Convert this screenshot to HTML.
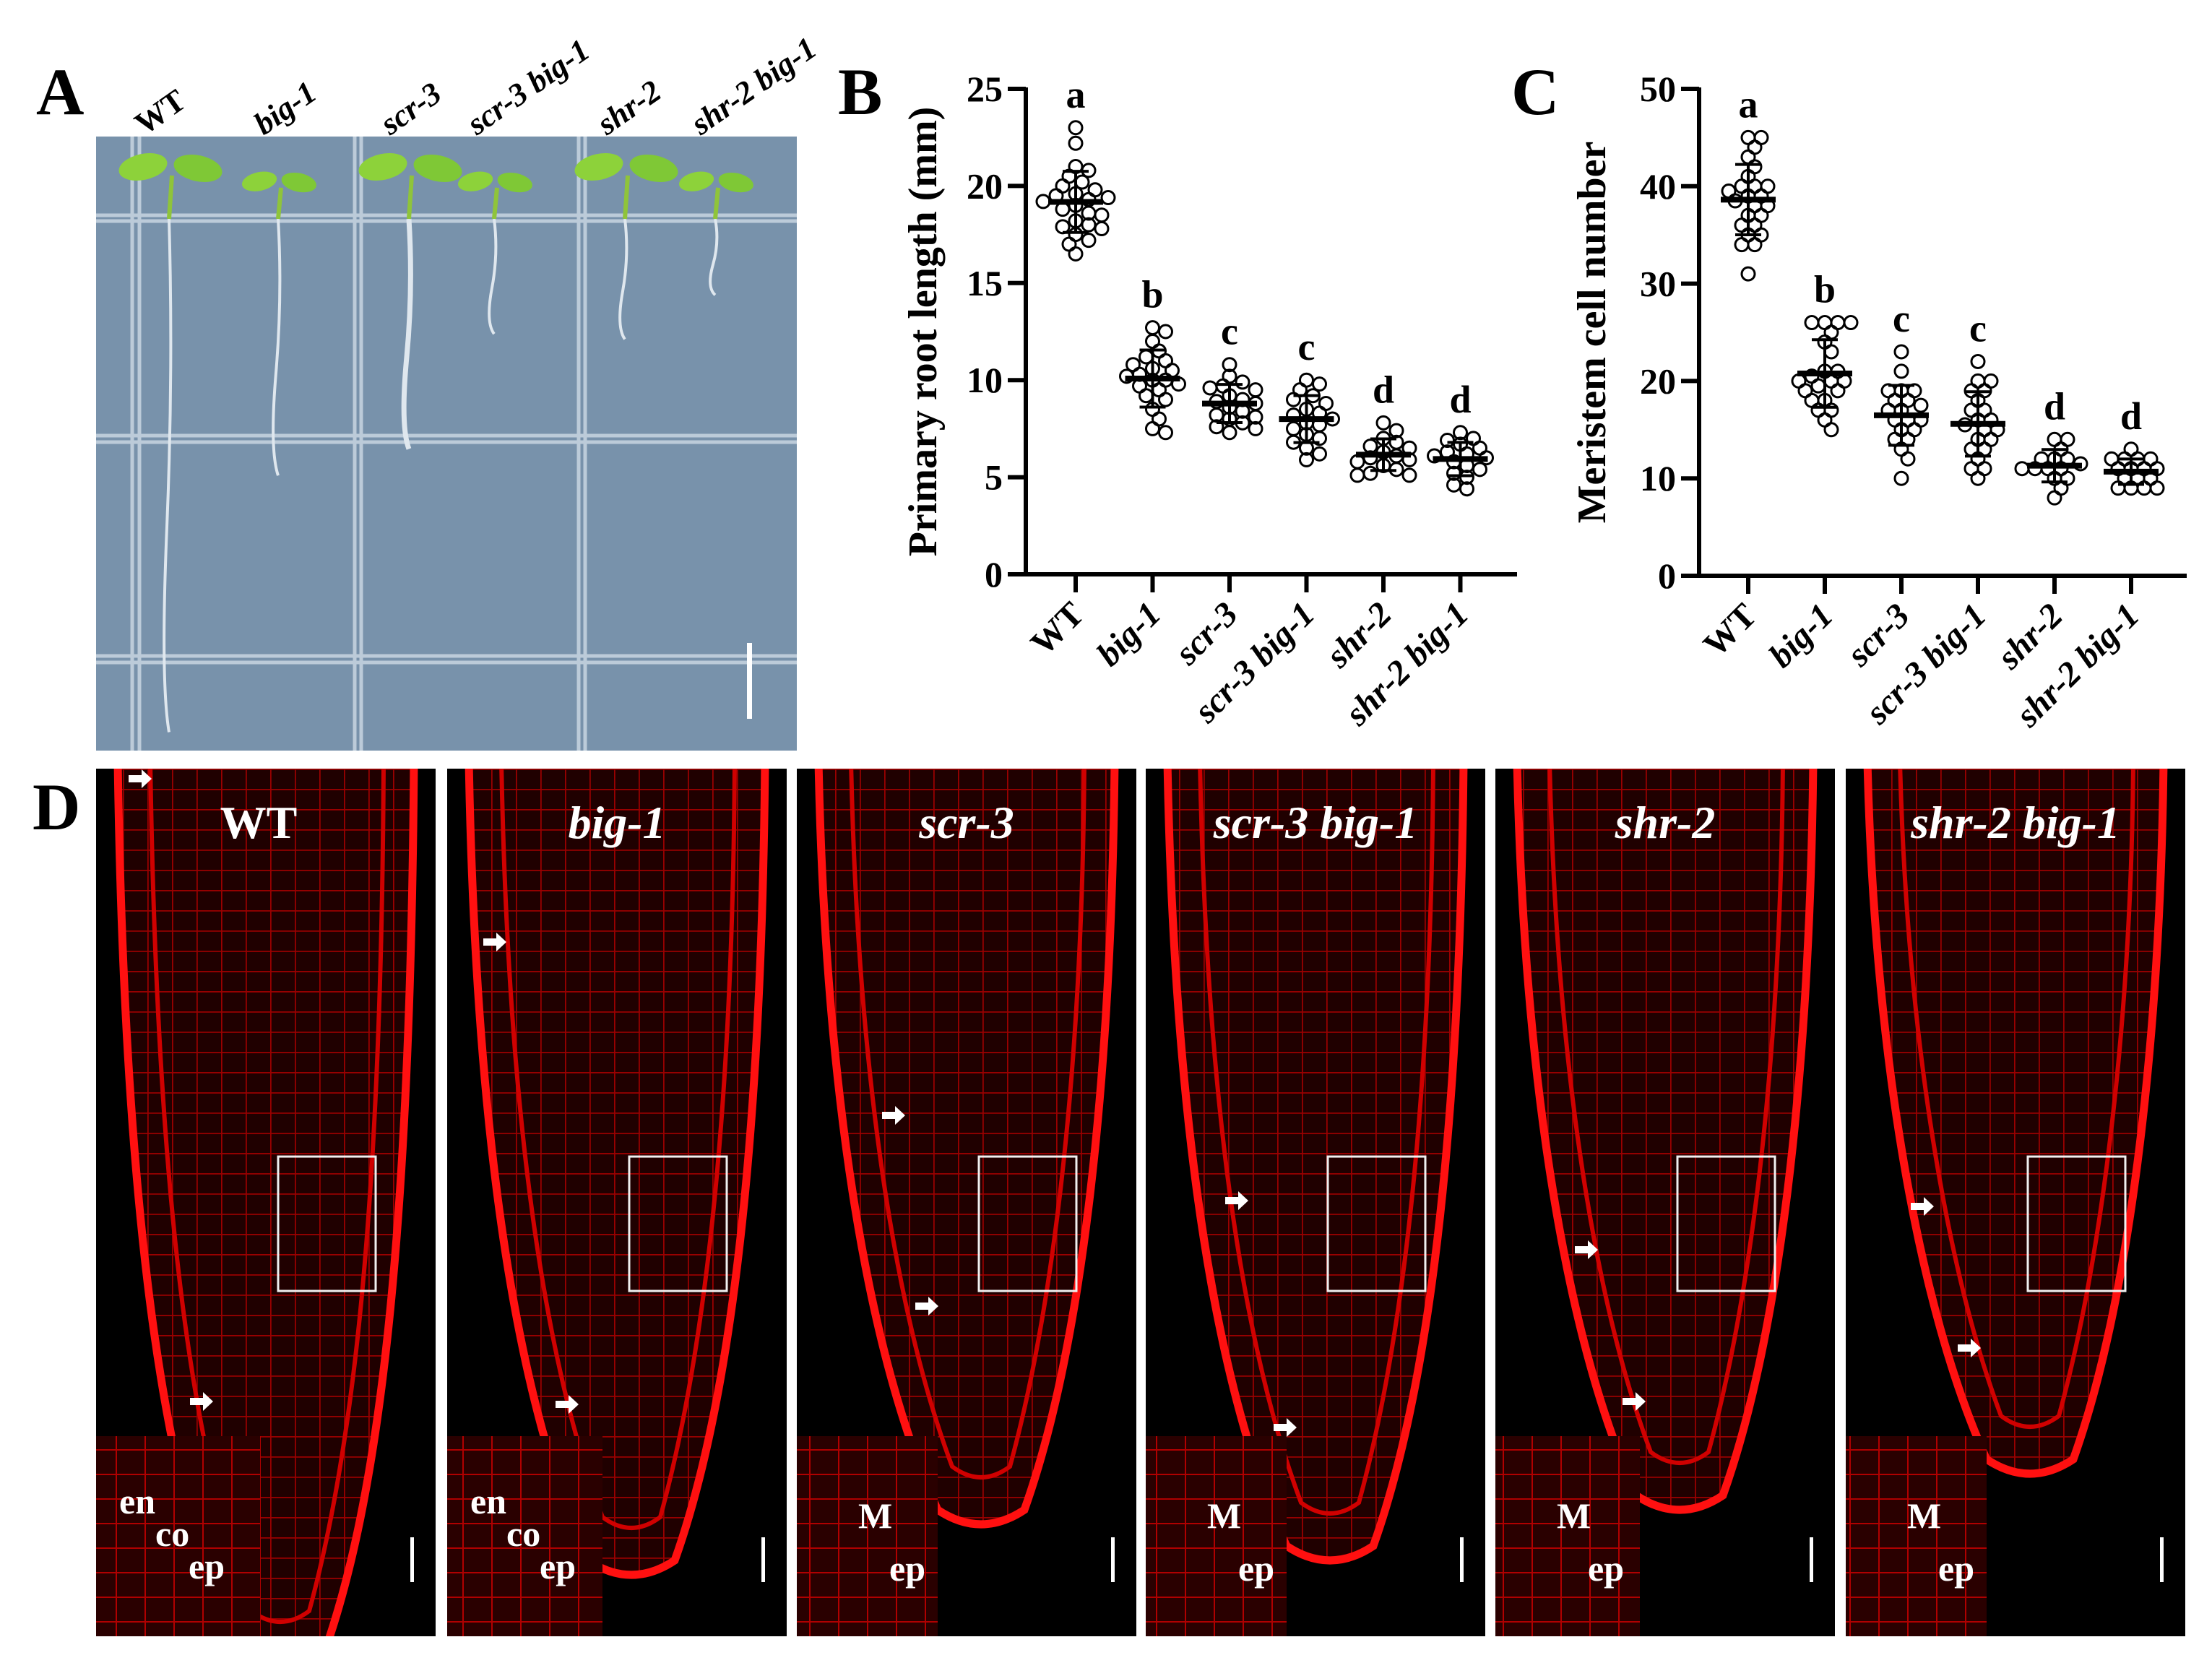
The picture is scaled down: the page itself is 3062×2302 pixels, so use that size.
<!DOCTYPE html>
<html><head><meta charset="utf-8">
<style>
html,body{margin:0;padding:0;background:#fff;}
svg{display:block;font-family:"Liberation Serif",serif;}
</style></head>
<body>
<svg id="fig" xmlns="http://www.w3.org/2000/svg" width="3062" height="2302" viewBox="0 0 3062 2302">
<defs>
  <pattern id="cells" width="34" height="28" patternUnits="userSpaceOnUse">
    <rect width="34" height="28" fill="#200000"/>
    <path d="M0 0.5H34 M0.5 0V28" stroke="#9a0000" stroke-width="2.5" fill="none"/>
  </pattern>
  <pattern id="cellsB" width="40" height="34" patternUnits="userSpaceOnUse">
    <rect width="40" height="34" fill="#2a0000"/>
    <path d="M0 0.5H40 M0.5 0V34" stroke="#b00000" stroke-width="3" fill="none"/>
  </pattern>
</defs>

<text x="50" y="158" font-size="92" font-weight="bold">A</text>
<text x="1160" y="158" font-size="92" font-weight="bold">B</text>
<text x="2092" y="158" font-size="92" font-weight="bold">C</text>
<text x="45" y="1148" font-size="92" font-weight="bold">D</text>

<g id="panelA">
  <rect x="133" y="189" width="970" height="850" fill="#7892ab"/>
  <g stroke="#c9d6e2" stroke-width="5" opacity="0.85">
    <line x1="183" y1="189" x2="183" y2="1039"/><line x1="193" y1="189" x2="193" y2="1039"/>
    <line x1="491" y1="189" x2="491" y2="1039"/><line x1="500" y1="189" x2="500" y2="1039"/>
    <line x1="801" y1="189" x2="801" y2="1039"/><line x1="810" y1="189" x2="810" y2="1039"/>
    <line x1="133" y1="298" x2="1103" y2="298"/><line x1="133" y1="306" x2="1103" y2="306"/>
    <line x1="133" y1="603" x2="1103" y2="603"/><line x1="133" y1="612" x2="1103" y2="612"/>
    <line x1="133" y1="908" x2="1103" y2="908"/><line x1="133" y1="917" x2="1103" y2="917"/>
  </g>
  <rect x="1034" y="890" width="7" height="105" fill="#fff"/>
</g>

<g id="panelD"></g>
<g id="chartB"></g>
<g id="chartC"></g>
</svg>

<script>
const NS = "http://www.w3.org/2000/svg";
function mk(parent, tag, attrs) {
  const el = document.createElementNS(NS, tag);
  for (const k in attrs) el.setAttribute(k, attrs[k]);
  parent.appendChild(el);
  return el;
}

const genotypes = ["WT", "big-1", "scr-3", "scr-3 big-1", "shr-2", "shr-2 big-1"];
const italicLabel = [false, true, true, true, true, true];
const sigLetters = ["a", "b", "c", "c", "d", "d"];

const rootWT = [23, 22.2, 21, 20.5, 20, 19.8, 19.5, 19.3, 19.2, 19, 18.8, 18.5, 18.2, 18, 17.8, 17.5, 17.2, 17, 16.5, 19.6, 20.2, 18.6, 19.4, 20.8, 17.9];
const rootBig1 = [12.7, 12.5, 12, 11.5, 11, 10.8, 10.5, 10.3, 10.2, 10, 10, 9.8, 9.5, 9.2, 9, 8.5, 8, 7.5, 7.3, 10.6, 11.2, 9.7];
const rootScr3 = [10.8, 10.2, 9.9, 9.7, 9.5, 9.2, 9, 8.8, 8.6, 8.4, 8.2, 8, 7.8, 7.6, 7.5, 7.3, 9.6, 8.9, 8.1];
const rootScr3Big1 = [10, 9.8, 9.5, 9.2, 9, 8.8, 8.5, 8.2, 8, 7.8, 7.5, 7.2, 7, 6.8, 6.5, 6.2, 5.9, 8.3, 7.7];
const rootShr2 = [7.8, 7.4, 7, 6.8, 6.5, 6.3, 6.1, 6, 5.8, 5.6, 5.4, 5.2, 5.1, 5.1, 6.6, 5.9];
const rootShr2Big1 = [7.3, 7, 6.9, 6.7, 6.5, 6.3, 6.2, 6, 5.8, 5.6, 5.4, 5.2, 5, 4.6, 4.4, 6.1];
const rootTicks = [0, 5, 10, 15, 20, 25];

const cellWT = [45, 45, 44, 43, 42, 41, 40, 40, 40, 39, 39, 38, 38, 37, 37, 36, 36, 35, 35, 34, 34, 31, 38.5, 39.5];
const cellBig1 = [26, 26, 26, 26, 25, 24, 23, 21, 21, 20, 20, 20, 19, 19, 18, 18, 17, 17, 16, 15, 20.5, 19.5];
const cellScr3 = [23, 21, 19, 19, 19, 18, 18, 17, 17, 16, 16, 16, 15, 15, 14, 14, 13, 12, 10, 17.5];
const cellScr3Big1 = [22, 20, 20, 19, 19, 18, 17, 17, 16, 16, 15, 15, 14, 14, 13, 13, 12, 11, 11, 10, 15.5];
const cellShr2 = [14, 14, 13, 12, 12, 12, 11, 11, 11, 11, 10, 10, 9, 8, 11.5];
const cellShr2Big1 = [13, 12, 12, 12, 12, 11, 11, 11, 11, 10, 10, 10, 9, 9, 9, 9];
const cellTicks = [0, 10, 20, 30, 40, 50];

const photoRootLen = [29, 14.5, 13, 6.5, 6.8, 4.3];

function drawChart(g, cfg) {
  const groups = cfg.groups;
  const y = v => cfg.y0 - (v - cfg.vmin) / (cfg.vmax - cfg.vmin) * (cfg.y0 - cfg.y1);
  const x = i => cfg.xFirst + i * cfg.xStep;
  let el = mk(g, "line", {x1: cfg.ax, y1: cfg.y1 - 2, x2: cfg.ax, y2: cfg.y0 + 3, stroke: "#000", "stroke-width": 6});
  
  
  el = mk(g, "line", {x1: cfg.ax - 25, y1: cfg.y0, x2: cfg.xEnd, y2: cfg.y0, stroke: "#000", "stroke-width": 6});
  
  
  cfg.ticks.forEach(t => {
    const tl = mk(g, "line", {x1: cfg.ax - 25, y1: y(t), x2: cfg.ax, y2: y(t), stroke: "#000", "stroke-width": 6});
    
    
    const tx = mk(g, "text", {x: cfg.ax - 32, y: y(t) + 17, "font-size": 50, "font-weight": "bold", "text-anchor": "end"});
    tx.textContent = t;
    
    
  });
  const title = mk(g, "text", {x: 0, y: 0, "font-size": 56, "font-weight": "bold", "text-anchor": "middle",
    transform: `translate(${cfg.titleX},${(cfg.y0 + cfg.y1) / 2}) rotate(-90)`});
  title.textContent = cfg.title;
  
  

  groups.forEach((vals, i) => {
    const cx = x(i);
    const tk = mk(g, "line", {x1: cx, y1: cfg.y0, x2: cx, y2: cfg.y0 + 25, stroke: "#000", "stroke-width": 6});
    
    
    const lab = mk(g, "text", {x: 0, y: 0, "font-size": 48, "font-weight": "bold", "text-anchor": "end",
      "font-style": italicLabel[i] ? "italic" : "normal",
      transform: `translate(${cx + 14},${cfg.y0 + 58}) rotate(-45)`});
    lab.textContent = genotypes[i];
    
    

    const r = 9, d = 2 * r + 1;
    const placed = [];
    const sorted = vals.slice().sort((a, b) => b - a);
    sorted.forEach(v => {
      const py = y(v);
      let off = 0;
      for (let k = 0; k < 40; k++) {
        const cand = (k === 0) ? 0 : (k % 2 ? 1 : -1) * Math.ceil(k / 2) * 9;
        if (placed.every(p => Math.hypot(p[0] - (cx + cand), p[1] - py) >= d - 4)) { off = cand; break; }
      }
      placed.push([cx + off, py]);
      const c = mk(g, "circle", {cx: cx + off, cy: py, r: r, fill: "none", stroke: "#000", "stroke-width": 3});
      
      
    });
    const mean = vals.reduce((a, b) => a + b, 0) / vals.length;
    const sd = Math.sqrt(vals.reduce((a, b) => a + (b - mean) ** 2, 0) / (vals.length - 1));
    const eb = mk(g, "path", {d: `M${cx} ${y(mean + sd)}V${y(mean - sd)} M${cx - 18} ${y(mean + sd)}H${cx + 18} M${cx - 18} ${y(mean - sd)}H${cx + 18}`,
      stroke: "#000", "stroke-width": 4, fill: "none"});
    
    
    const ml = mk(g, "line", {x1: cx - 38, y1: y(mean), x2: cx + 38, y2: y(mean), stroke: "#000", "stroke-width": 8});
    
    
    const maxv = Math.max(...vals);
    const sl = mk(g, "text", {x: cx, y: y(maxv) - 28, "font-size": 54, "font-weight": "bold", "text-anchor": "middle"});
    sl.textContent = sigLetters[i];
    
    
  });
}

drawChart(document.getElementById("chartB"), {
  groups: [rootWT, rootBig1, rootScr3, rootScr3Big1, rootShr2, rootShr2Big1],
  ticks: rootTicks, vmin: 0, vmax: 25, y0: 795, y1: 123, ax: 1420, xFirst: 1489, xStep: 106.5, xEnd: 2100,
  title: "Primary root length (mm)", titleX: 1296
});
drawChart(document.getElementById("chartC"), {
  groups: [cellWT, cellBig1, cellScr3, cellScr3Big1, cellShr2, cellShr2Big1],
  ticks: cellTicks, vmin: 0, vmax: 50, y0: 797, y1: 123, ax: 2352, xFirst: 2420, xStep: 106, xEnd: 3027,
  title: "Meristem cell number", titleX: 2222
});

// Panel A seedlings
const gA = document.getElementById("panelA");
const seedX = [234, 385, 566, 684, 865, 990];
const photoLabX = [240, 405, 580, 700, 880, 1010];
seedX.forEach((sx, i) => {
  const top = 303, len = photoRootLen[i] * 24.5;
  const root = mk(gA, "path", {d: `M${sx} ${top} q6 ${len * 0.3} -3 ${len * 0.6} t3 ${len * 0.4}`, stroke: "#dfe7ee", "stroke-width": i === 2 ? 7 : 4, fill: "none"});
  
  
  const big = (i === 0 || i === 2 || i === 4) ? 1 : 0.72;
  const st = mk(gA, "path", {d: `M${sx} ${top} L${sx + 4} ${top - 60 * big}`, stroke: "#8fc43a", "stroke-width": 6});
  
  
  const l1 = mk(gA, "ellipse", {cx: sx - 36 * big, cy: top - 72 * big, rx: 34 * big, ry: 18 * big, fill: "#8dd23a", transform: `rotate(-12 ${sx - 36 * big} ${top - 72 * big})`});
  
  
  const l2 = mk(gA, "ellipse", {cx: sx + 40 * big, cy: top - 70 * big, rx: 34 * big, ry: 18 * big, fill: "#7fc836", transform: `rotate(12 ${sx + 40 * big} ${top - 70 * big})`});
  
  
  const lab = mk(gA, "text", {x: 0, y: 0, "font-size": 44, "font-weight": "bold", "font-style": i === 0 ? "normal" : "italic",
    "text-anchor": "start", transform: `translate(${photoLabX[i] - 40},${188}) rotate(-35)`});
  lab.textContent = genotypes[i];
  
  
});

// Panel D
const gD = document.getElementById("panelD");
const panelX = [133, 619, 1103, 1586, 2070, 2555];
const panelW = 470, panelY = 1064, panelH = 1201;
const tipY = [2330, 2200, 2130, 2180, 2110, 2060];
const insetW = [228, 215, 195, 195, 200, 195];
const insetLabels = [["en", "co", "ep"], ["en", "co", "ep"], ["M", "ep"], ["M", "ep"], ["M", "ep"], ["M", "ep"]];
const arrowPts = [[[45, 14], [130, 876]], [[50, 240], [150, 880]], [[118, 480], [164, 744]], [[110, 598], [177, 912]], [[110, 666], [176, 876]], [[90, 606], [155, 802]]];
panelX.forEach((px, i) => {
  const pg = mk(gD, "g", {});
  
  
  const clipId = "clip" + i;
  const cp = mk(pg, "clipPath", {id: clipId});
  mk(cp, "rect", {x: px, y: panelY, width: panelW, height: panelH});
  const bg = mk(pg, "rect", {x: px, y: panelY, width: panelW, height: panelH, fill: "#000"});
  
  
  const inner = mk(pg, "g", {"clip-path": `url(#${clipId})`});
  const L = px + 30, R = px + panelW - 30, T = panelY - 10, tip = tipY[i], mid = (L + R) / 2 + 20;
  const rootPath = `M${L} ${T} C${L + 10} ${tip - 600} ${L + 70} ${tip - 250} ${mid - 60} ${tip - 40} Q${mid} ${tip} ${mid + 60} ${tip - 40} C${R - 50} ${tip - 250} ${R - 5} ${tip - 600} ${R} ${T} Z`;
  const body = mk(inner, "path", {d: rootPath, fill: "url(#cells)", stroke: "#ff1010", "stroke-width": 11});
  
  
  const inn = mk(inner, "path", {d: `M${L + 45} ${T} C${L + 55} ${tip - 620} ${L + 110} ${tip - 300} ${mid - 40} ${tip - 100} Q${mid} ${tip - 70} ${mid + 40} ${tip - 100} C${R - 90} ${tip - 300} ${R - 45} ${tip - 620} ${R - 42} ${T}`, fill: "none", stroke: "#d00000", "stroke-width": 6});
  
  
  const iw = insetW[i];
  const ins = mk(inner, "rect", {x: px, y: 1988, width: iw, height: 277, fill: "url(#cellsB)"});
  
  
  const box = mk(inner, "rect", {x: px + 252, y: 1601, width: 135, height: 186, fill: "none", stroke: "#f0f0f0", "stroke-width": 3});
  
  
  const sb = mk(inner, "rect", {x: px + 435, y: 2128, width: 5, height: 62, fill: "#fff"});
  
  
  arrowPts[i].forEach(a => {
    const ax = px + a[0], ay = panelY + a[1];
    const ar = mk(inner, "path", {d: `M${ax} ${ay - 5}h18v-8l14 13l-14 13v-8h-18z`, fill: "#fff"});
    
    
  });
  const t = mk(inner, "text", {x: px + panelW / 2 + (i === 0 ? -10 : 0), y: 1160, "font-size": 64, "font-weight": "bold", fill: "#fff",
    "text-anchor": "middle", "font-style": italicLabel[i] ? "italic" : "normal"});
  t.textContent = genotypes[i];
  
  
  const labs = insetLabels[i];
  const pos = labs.length === 3 ? [[32, 2095], [82, 2140], [128, 2185]] : [[85, 2115], [128, 2188]];
  labs.forEach((s, k) => {
    const lt = mk(inner, "text", {x: px + pos[k][0], y: pos[k][1], "font-size": 50, "font-weight": "bold", fill: "#fff"});
    lt.textContent = s;
    
    
  });
});
</script>
</body></html>
